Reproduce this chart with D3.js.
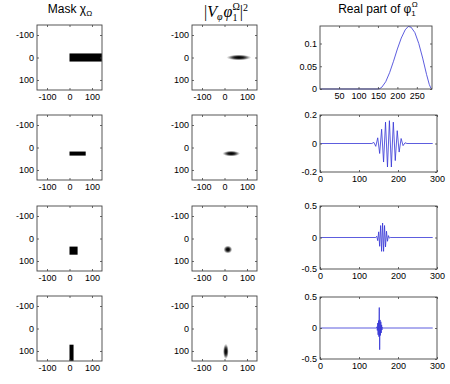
<!DOCTYPE html>
<html>
<head>
<meta charset="utf-8">
<script src="https://cdn.jsdelivr.net/npm/d3@7"></script>
<style>
  body { margin: 0; background: #fff; }
  text { font-family: "Liberation Sans", Arial, sans-serif; }
</style>
</head>
<body>
<svg id="fig" width="450" height="384"></svg>
<script>
// ---- data ----
const imgTicks = [-100, 0, 100];

// mask rectangles (image coords, y grows downward)
const maskX0 = [0, 0, 0, 0];
const maskX1 = [144, 72, 36, 18];
const maskY0 = [-18, 18, 36, 72];
const maskY1 = [18, 36, 72, 144];

// spectrogram blobs: centre and half-extent
const blobCx = [64, 30, 15, 6];
const blobCy = [0, 27, 49, 102];
const blobRx = [56, 40, 20, 13];
const blobRy = [13, 13, 18, 35];

// real part of phi_1 for each row
const phiX1 = [1, 150, 155, 160, 170, 180, 190, 200, 210, 220, 228, 235, 245, 255, 265, 275, 282, 286, 289];
const phiY1 = [0, 0, 0.001, 0.004, 0.016, 0.036, 0.061, 0.088, 0.112, 0.130, 0.1375, 0.136, 0.124, 0.100, 0.068, 0.032, 0.010, 0.002, 0];

const phiX2 = [1, 133, 138, 143, 148, 153, 158, 163, 168, 173, 178, 183, 188, 193, 198, 203, 208, 213, 218, 223, 289];
const phiY2 = [0, 0, 0.008, -0.02, 0.04, -0.07, 0.10, -0.13, 0.15, -0.165, 0.16, -0.165, 0.15, -0.12, 0.09, -0.06, 0.035, -0.015, 0.005, 0, 0];

const phiX3 = [1, 143, 145.5, 148, 150.5, 153, 155.5, 158, 160.5, 163, 165.5, 168, 170.5, 173, 175.5, 178, 180, 289];
const phiY3 = [0, 0, 0.02, -0.05, 0.09, -0.14, 0.19, -0.22, 0.23, -0.22, 0.19, -0.15, 0.1, -0.06, 0.03, -0.01, 0, 0];

const phiX4 = [1, 145, 146, 147, 148, 149, 150, 151, 152, 153, 154, 155, 156, 157, 158, 159, 160, 161, 289];
const phiY4 = [0, 0, 0.02, -0.04, 0.08, -0.11, 0.12, -0.14, 0.33, -0.35, 0.13, -0.12, 0.10, -0.08, 0.05, -0.03, 0.01, 0, 0];

const phiX = [phiX1, phiX2, phiX3, phiX4];
const phiY = [phiY1, phiY2, phiY3, phiY4];

const waveXDomain = [[1, 289], [0, 300], [0, 300], [0, 300]];
const waveYDomain = [[0, 0.1385], [-0.2, 0.2], [-0.5, 0.5], [-0.5, 0.5]];
const waveXTicks = [[50, 100, 150, 200, 250], [0, 100, 200, 300], [0, 100, 200, 300], [0, 100, 200, 300]];
const waveYTicks = [[0, 0.05, 0.1], [-0.2, 0, 0.2], [-0.5, 0, 0.5], [-0.5, 0, 0.5]];

// ---- layout ----
const svg = d3.select('#fig');
const imgLeft = [37, 192];
const imgTop = [25, 115, 206, 296];
const imgSize = 65;
const waveLeft = 320;
const waveRight = [432, 437, 437, 437];
const waveTop = [26, 115, 206, 297];
const waveBottom = [89, 172, 269, 359];

const defs = svg.append('defs');
const grad = defs.append('radialGradient').attr('id', 'blob');
[[0, 1], [0.3, 0.93], [0.5, 0.72], [0.7, 0.4], [0.85, 0.15], [1, 0]].forEach(([o, a]) =>
  grad.append('stop').attr('offset', o).attr('stop-color', '#000').attr('stop-opacity', a));

function drawAxes(g, x, y, w, h, xt, yt) {
  g.append('g').attr('transform', `translate(0,${h})`)
    .call(d3.axisBottom(x).tickValues(xt).tickSize(-2).tickPadding(4).tickFormat(d => d));
  g.append('g')
    .call(d3.axisTop(x).tickValues(xt).tickSize(-2).tickFormat(''));
  g.append('g')
    .call(d3.axisLeft(y).tickValues(yt).tickSize(-2).tickPadding(3).tickFormat(d => d));
  g.append('g').attr('transform', `translate(${w},0)`)
    .call(d3.axisRight(y).tickValues(yt).tickSize(-2).tickFormat(''));
  g.selectAll('.domain').remove();
  g.selectAll('.tick line').attr('stroke', '#444').attr('stroke-width', 0.8);
  g.selectAll('.tick text').attr('font-size', 9).attr('fill', '#000')
    .style('font-family', '"Liberation Sans", Arial, sans-serif');
  g.append('rect').attr('width', w).attr('height', h)
    .attr('fill', 'none').attr('stroke', '#444').attr('stroke-width', 0.9);
}

for (let r = 0; r < 4; r++) {
  // column 1: mask
  {
    const g = svg.append('g').attr('transform', `translate(${imgLeft[0]},${imgTop[r]})`);
    const x = d3.scaleLinear().domain([-144.5, 144.5]).range([0, imgSize]);
    const y = d3.scaleLinear().domain([-144.5, 144.5]).range([0, imgSize]);
    g.append('rect').attr('width', imgSize).attr('height', imgSize).attr('fill', '#fff');
    g.append('rect')
      .attr('x', x(maskX0[r])).attr('y', y(maskY0[r]))
      .attr('width', x(maskX1[r]) - x(maskX0[r]))
      .attr('height', y(maskY1[r]) - y(maskY0[r]))
      .attr('fill', '#000');
    drawAxes(g, x, y, imgSize, imgSize, imgTicks, imgTicks);
  }
  // column 2: spectrogram
  {
    const g = svg.append('g').attr('transform', `translate(${imgLeft[1]},${imgTop[r]})`);
    const x = d3.scaleLinear().domain([-144.5, 144.5]).range([0, imgSize]);
    const y = d3.scaleLinear().domain([-144.5, 144.5]).range([0, imgSize]);
    g.append('ellipse')
      .attr('cx', x(blobCx[r])).attr('cy', y(blobCy[r]))
      .attr('rx', x(blobCx[r] + blobRx[r]) - x(blobCx[r]))
      .attr('ry', y(blobCy[r] + blobRy[r]) - y(blobCy[r]))
      .attr('fill', 'url(#blob)');
    drawAxes(g, x, y, imgSize, imgSize, imgTicks, imgTicks);
  }
  // column 3: real part
  {
    const w = waveRight[r] - waveLeft, h = waveBottom[r] - waveTop[r];
    const g = svg.append('g').attr('transform', `translate(${waveLeft},${waveTop[r]})`);
    const x = d3.scaleLinear().domain(waveXDomain[r]).range([0, w]);
    const y = d3.scaleLinear().domain(waveYDomain[r]).range([h, 0]);
    const pts = phiX[r].map((d, i) => [d, phiY[r][i]]);
    g.append('path').datum(pts)
      .attr('fill', 'none').attr('stroke', '#3333d6').attr('stroke-width', 0.8)
      .attr('d', d3.line().x(d => x(d[0])).y(d => y(d[1])));
    drawAxes(g, x, y, w, h, waveXTicks[r], waveYTicks[r]);
  }
}

// ---- titles ----
const t1 = svg.append('text').attr('x', 70).attr('y', 13).attr('text-anchor', 'middle').attr('font-size', 12);
t1.append('tspan').text('Mask \u03c7');
t1.append('tspan').attr('font-size', 8).attr('dy', 3).text('\u03a9');

const t2 = svg.append('text').attr('x', 226).attr('y', 17).attr('text-anchor', 'middle')
  .attr('font-size', 16).style('font-family', '"Liberation Serif", "DejaVu Serif", serif');
t2.append('tspan').text('|');
t2.append('tspan').attr('font-style', 'italic').text('V');
t2.append('tspan').attr('font-style', 'italic').attr('font-size', 10).attr('dy', 3).text('\u03c6');
t2.append('tspan').attr('font-style', 'italic').attr('dy', -3).attr('dx', 1).text('\u03c6');
t2.append('tspan').attr('font-size', 10).attr('dy', 4).text('1');
t2.append('tspan').attr('font-size', 10).attr('dx', -5).attr('dy', -11).text('\u03a9');
t2.append('tspan').attr('dy', 7).text('|');
t2.append('tspan').attr('font-size', 10).attr('dy', -6).text('2');

const t3 = svg.append('text').attr('x', 378).attr('y', 13).attr('text-anchor', 'middle').attr('font-size', 12);
t3.append('tspan').text('Real part of \u03c6');
t3.append('tspan').attr('font-size', 8).attr('dy', 3).text('1');
t3.append('tspan').attr('font-size', 8).attr('dx', -4).attr('dy', -9).text('\u03a9');
</script>
</body>
</html>
